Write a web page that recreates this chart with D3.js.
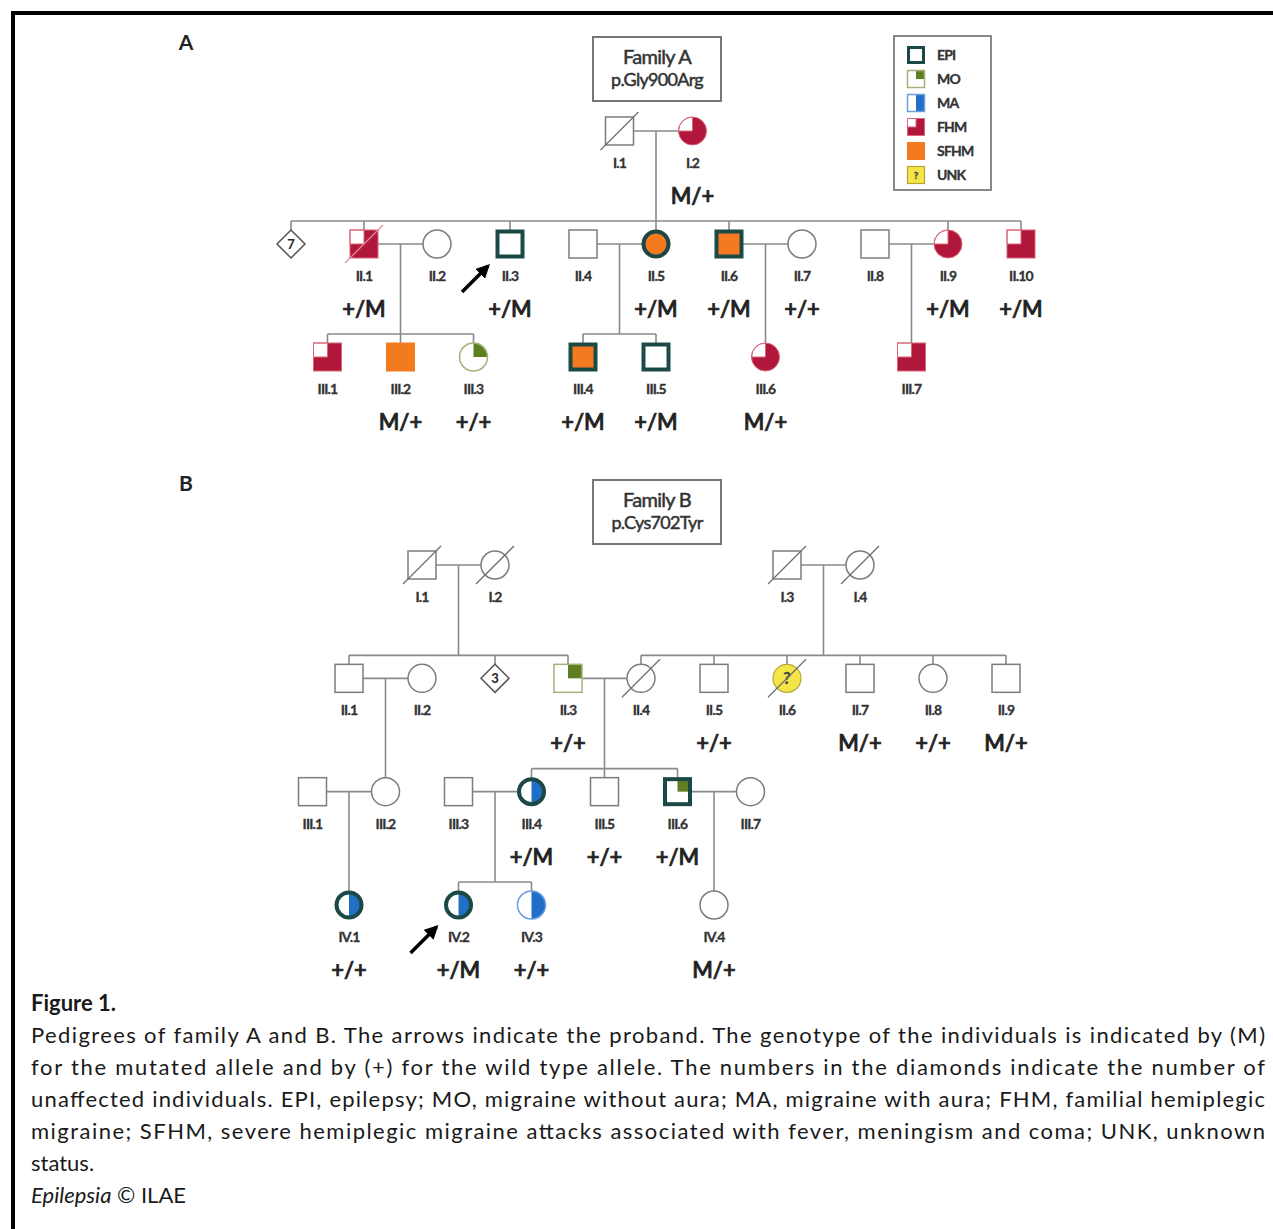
<!DOCTYPE html>
<html>
<head>
<meta charset="utf-8">
<script src="https://cdn.jsdelivr.net/npm/d3@7"></script>
<style>
  body { margin: 0; background: #fff; }
  svg { display: block; }
  text { font-family: Lato, "Open Sans", sans-serif; }
</style>
</head>
<body>
<svg id="chart" width="1273" height="1229"></svg>
<script>
// ---- data ----
// sex: m / f / n (diamond, unaffected group), col = pedigree column, gen = generation
const peopleA = [
  { id: "I.1", sex: "m", gen: 1, col: 4.5, dead: true },
  { id: "I.2", sex: "f", gen: 1, col: 5.5, traits: ["FHM"], geno: "M/+" },
  { id: "dA", sex: "n", gen: 2, col: 0, count: 7 },
  { id: "II.1", sex: "m", gen: 2, col: 1, traits: ["FHM"], geno: "+/M", dead: true },
  { id: "II.2", sex: "f", gen: 2, col: 2 },
  { id: "II.3", sex: "m", gen: 2, col: 3, traits: ["EPI"], geno: "+/M", proband: true },
  { id: "II.4", sex: "m", gen: 2, col: 4 },
  { id: "II.5", sex: "f", gen: 2, col: 5, traits: ["SFHM", "EPI"], geno: "+/M" },
  { id: "II.6", sex: "m", gen: 2, col: 6, traits: ["SFHM", "EPI"], geno: "+/M" },
  { id: "II.7", sex: "f", gen: 2, col: 7, geno: "+/+" },
  { id: "II.8", sex: "m", gen: 2, col: 8 },
  { id: "II.9", sex: "f", gen: 2, col: 9, traits: ["FHM"], geno: "+/M" },
  { id: "II.10", sex: "m", gen: 2, col: 10, traits: ["FHM"], geno: "+/M" },
  { id: "III.1", sex: "m", gen: 3, col: 0.5, traits: ["FHM"] },
  { id: "III.2", sex: "m", gen: 3, col: 1.5, traits: ["SFHM"], geno: "M/+" },
  { id: "III.3", sex: "f", gen: 3, col: 2.5, traits: ["MO"], geno: "+/+" },
  { id: "III.4", sex: "m", gen: 3, col: 4, traits: ["SFHM", "EPI"], geno: "+/M" },
  { id: "III.5", sex: "m", gen: 3, col: 5, traits: ["EPI"], geno: "+/M" },
  { id: "III.6", sex: "f", gen: 3, col: 6.5, traits: ["FHM"], geno: "M/+" },
  { id: "III.7", sex: "m", gen: 3, col: 8.5, traits: ["FHM"] }
];

const unionsA = [
  { partners: ["I.1", "I.2"], children: ["dA", "II.1", "II.3", "II.5", "II.6", "II.9", "II.10"] },
  { partners: ["II.1", "II.2"], children: ["III.1", "III.2", "III.3"] },
  { partners: ["II.4", "II.5"], children: ["III.4", "III.5"] },
  { partners: ["II.6", "II.7"], children: ["III.6"] },
  { partners: ["II.8", "II.9"], children: ["III.7"] }
];

const peopleB = [
  { id: "I.1", sex: "m", gen: 1, col: 1, dead: true },
  { id: "I.2", sex: "f", gen: 1, col: 2, dead: true },
  { id: "I.3", sex: "m", gen: 1, col: 6, dead: true },
  { id: "I.4", sex: "f", gen: 1, col: 7, dead: true },
  { id: "II.1", sex: "m", gen: 2, col: 0 },
  { id: "II.2", sex: "f", gen: 2, col: 1 },
  { id: "dB", sex: "n", gen: 2, col: 2, count: 3 },
  { id: "II.3", sex: "m", gen: 2, col: 3, traits: ["MO"], geno: "+/+" },
  { id: "II.4", sex: "f", gen: 2, col: 4, dead: true },
  { id: "II.5", sex: "m", gen: 2, col: 5, geno: "+/+" },
  { id: "II.6", sex: "f", gen: 2, col: 6, traits: ["UNK"], dead: true },
  { id: "II.7", sex: "m", gen: 2, col: 7, geno: "M/+" },
  { id: "II.8", sex: "f", gen: 2, col: 8, geno: "+/+" },
  { id: "II.9", sex: "m", gen: 2, col: 9, geno: "M/+" },
  { id: "III.1", sex: "m", gen: 3, col: -0.5 },
  { id: "III.2", sex: "f", gen: 3, col: 0.5 },
  { id: "III.3", sex: "m", gen: 3, col: 1.5 },
  { id: "III.4", sex: "f", gen: 3, col: 2.5, traits: ["MA", "EPI"], geno: "+/M" },
  { id: "III.5", sex: "m", gen: 3, col: 3.5, geno: "+/+" },
  { id: "III.6", sex: "m", gen: 3, col: 4.5, traits: ["MO", "EPI"], geno: "+/M" },
  { id: "III.7", sex: "f", gen: 3, col: 5.5 },
  { id: "IV.1", sex: "f", gen: 4, col: 0, traits: ["MA", "EPI"], geno: "+/+" },
  { id: "IV.2", sex: "f", gen: 4, col: 1.5, traits: ["MA", "EPI"], geno: "+/M", proband: true },
  { id: "IV.3", sex: "f", gen: 4, col: 2.5, traits: ["MA"], geno: "+/+" },
  { id: "IV.4", sex: "f", gen: 4, col: 5, geno: "M/+" }
];

const unionsB = [
  { partners: ["I.1", "I.2"], children: ["II.1", "dB", "II.3"] },
  { partners: ["I.3", "I.4"], children: ["II.4", "II.5", "II.6", "II.7", "II.8", "II.9"] },
  { partners: ["II.1", "II.2"], children: ["III.2"] },
  { partners: ["II.3", "II.4"], children: ["III.4", "III.5", "III.6"] },
  { partners: ["III.1", "III.2"], children: ["IV.1"] },
  { partners: ["III.3", "III.4"], children: ["IV.2", "IV.3"] },
  { partners: ["III.6", "III.7"], children: ["IV.4"] }
];

const legendItems = ["EPI", "MO", "MA", "FHM", "SFHM", "UNK"];

const titleA = ["Family A", "p.Gly900Arg"];
const titleB = ["Family B", "p.Cys702Tyr"];

const captionTitle = "Figure 1.";
const captionLines = [
  "Pedigrees of family A and B. The arrows indicate the proband. The genotype of the individuals is indicated by (M)",
  "for the mutated allele and by (+) for the wild type allele. The numbers in the diamonds indicate the number of",
  "unaffected individuals. EPI, epilepsy; MO, migraine without aura; MA, migraine with aura; FHM, familial hemiplegic",
  "migraine; SFHM, severe hemiplegic migraine attacks associated with fever, meningism and coma; UNK, unknown",
  "status."
];

// ---- styles ----
const COLORS = { EPI: "#1b4a46", MO: "#5e7e22", MA: "#2170c8", FHM: "#b0173b", SFHM: "#f37a1f", UNK: "#f6e548" };
const LINE = "#8a8a8a";
const H = 14; // half-size of a symbol

const svg = d3.select("#chart");

// frame
svg.append("path")
  .attr("d", "M13,1229 V13 H1273")
  .attr("fill", "none").attr("stroke", "#000").attr("stroke-width", 4);

// arrow marker
svg.append("defs").append("marker")
  .attr("id", "head").attr("viewBox", "0 0 10 10")
  .attr("refX", 8).attr("refY", 5)
  .attr("markerWidth", 4).attr("markerHeight", 4)
  .attr("orient", "auto")
  .append("path").attr("d", "M0,0 L10,5 L0,10 Z").attr("fill", "#000");

// region inside a symbol: tl (top-left quarter), tr (top-right quarter), right (half)
const arcs = { tl: [-Math.PI / 2, 0], tr: [0, Math.PI / 2], right: [0, Math.PI] };
function region(g, square, h, kind) {
  if (square) {
    const r = { tl: [-h, -h, h, h], tr: [0, -h, h, h], right: [0, -h, h, 2 * h] }[kind];
    return g.append("rect").attr("x", r[0]).attr("y", r[1]).attr("width", r[2]).attr("height", r[3]);
  }
  const [a0, a1] = arcs[kind];
  return g.append("path").attr("d", d3.arc()({ innerRadius: 0, outerRadius: h, startAngle: a0, endAngle: a1 }));
}

function outline(g, square, h) {
  return square
    ? g.append("rect").attr("x", -h).attr("y", -h).attr("width", 2 * h).attr("height", 2 * h)
    : g.append("circle").attr("r", h);
}

function drawSymbol(g, p, h, epiWidth) {
  const t = p.traits || [];
  const has = k => t.includes(k);
  if (p.sex === "n") {
    g.append("path")
      .attr("d", `M0,${-h} L${h},0 L0,${h} L${-h},0 Z`)
      .attr("fill", "#fff").attr("stroke", "#555").attr("stroke-width", 1.5);
    g.append("text").attr("text-anchor", "middle").attr("dy", "0.36em")
      .attr("font-size", 13).attr("font-weight", "bold").attr("fill", "#222")
      .text(p.count);
    return;
  }
  const square = p.sex === "m";
  let base = "#fff";
  if (has("SFHM")) base = COLORS.SFHM;
  if (has("FHM")) base = COLORS.FHM;
  if (has("UNK")) base = COLORS.UNK;
  outline(g, square, h).attr("fill", base);

  let stroke = "#7c7c7c", sw = 1.5;
  if (has("FHM")) {
    region(g, square, h, "tl").attr("fill", "#fff").attr("stroke", "#d8677a").attr("stroke-width", 1);
    stroke = "#d8677a"; sw = 1;
  }
  if (has("MO")) {
    region(g, square, h, "tr").attr("fill", COLORS.MO);
    stroke = "#a8b07a";
  }
  if (has("MA")) {
    region(g, square, h, "right").attr("fill", COLORS.MA);
    stroke = "#6b9ee0";
  }
  if (has("SFHM")) { stroke = COLORS.SFHM; sw = 1; }
  if (has("UNK")) {
    stroke = "#b3a73a"; sw = 1.2;
    g.append("text").attr("text-anchor", "middle").attr("dy", "0.36em")
      .attr("font-size", h * 1.15).attr("font-weight", "bold").attr("fill", "#444")
      .attr("stroke", "#444").attr("stroke-width", 0.4)
      .text("?");
  }
  if (has("EPI")) {
    const inset = epiWidth / 2 - 0.5;
    outline(g, square, h - inset).attr("fill", "none")
      .attr("stroke", COLORS.EPI).attr("stroke-width", epiWidth);
  } else {
    outline(g, square, h).attr("fill", "none").attr("stroke", stroke).attr("stroke-width", sw);
  }
  if (p.dead) {
    g.append("line")
      .attr("x1", -h - 5).attr("y1", h + 5).attr("x2", h + 5).attr("y2", -h - 5)
      .attr("stroke", has("FHM") ? "#e08a98" : "#6f6f6f").attr("stroke-width", 1.3);
  }
}

function drawFamily(people, unions, xs, ys) {
  const g = svg.append("g");
  const byId = new Map(people.map(p => [p.id, p]));
  const gl = g.append("g").attr("stroke", LINE).attr("stroke-width", 1.6);
  const seg = (x1, y1, x2, y2) => gl.append("line")
    .attr("x1", x1).attr("y1", y1).attr("x2", x2).attr("y2", y2);

  unions.forEach(u => {
    const [a, b] = u.partners.map(id => byId.get(id));
    const y = ys(a.gen);
    const xa = xs(a.col), xb = xs(b.col);
    seg(xa + H, y, xb - H, y);
    const mx = (xa + xb) / 2;
    const kids = u.children.map(id => byId.get(id));
    const cy = ys(kids[0].gen);
    const kx = kids.map(k => xs(k.col));
    if (kids.length === 1 && Math.abs(kx[0] - mx) < 1) {
      seg(mx, y, mx, cy - H);
    } else {
      const sy = cy - 23;
      seg(mx, y, mx, sy);
      seg(d3.min(kx), sy, d3.max(kx), sy);
      kx.forEach(x => seg(x, sy, x, cy - H));
    }
  });

  people.forEach(p => {
    const x = xs(p.col), y = ys(p.gen);
    drawSymbol(g.append("g").attr("transform", `translate(${x},${y})`), p, H, 4);
    if (p.sex !== "n") {
      g.append("text").attr("x", x).attr("y", y + 32)
        .attr("text-anchor", "middle").attr("dy", "0.36em")
        .attr("font-size", 14).attr("font-weight", "bold").attr("letter-spacing", -0.8)
        .attr("fill", "#333").attr("stroke", "#333").attr("stroke-width", 0.3)
        .text(p.id);
    }
    if (p.geno) {
      g.append("text").attr("x", x).attr("y", y + 65)
        .attr("text-anchor", "middle").attr("dy", "0.36em")
        .attr("font-size", 22).attr("font-weight", 600)
        .attr("fill", "#222").attr("stroke", "#222").attr("stroke-width", 0.7)
        .text(p.geno);
    }
    if (p.proband) {
      g.append("line")
        .attr("x1", x - 48).attr("y1", y + 48).attr("x2", x - 22).attr("y2", y + 22)
        .attr("stroke", "#000").attr("stroke-width", 3.5)
        .attr("marker-end", "url(#head)");
    }
  });
}

function drawTitleBox(lines, x, y) {
  const g = svg.append("g");
  g.append("rect").attr("x", x).attr("y", y).attr("width", 128).attr("height", 64)
    .attr("fill", "#fff").attr("stroke", "#777").attr("stroke-width", 2);
  lines.forEach((s, i) => {
    g.append("text").attr("x", x + 64).attr("y", y + 20 + i * 23)
      .attr("text-anchor", "middle").attr("dy", "0.36em")
      .attr("font-size", i === 0 ? 20 : 18).attr("letter-spacing", -0.7)
      .attr("fill", "#333").attr("stroke", "#333").attr("stroke-width", 0.5)
      .text(s);
  });
}

// panel letters
svg.append("text").attr("x", 186).attr("y", 42).attr("text-anchor", "middle").attr("dy", "0.36em")
  .attr("font-size", 21).attr("font-weight", "bold").attr("fill", "#222").text("A");
svg.append("text").attr("x", 186).attr("y", 483).attr("text-anchor", "middle").attr("dy", "0.36em")
  .attr("font-size", 21).attr("font-weight", "bold").attr("fill", "#222").text("B");

drawTitleBox(titleA, 593, 37);
drawTitleBox(titleB, 593, 480);

// family A
const xA = d3.scaleLinear().domain([0, 10]).range([291, 1021]);
const yA = d3.scaleLinear().domain([1, 3]).range([131, 357]);
drawFamily(peopleA, unionsA, xA, yA);

// family B
const xB = d3.scaleLinear().domain([0, 9]).range([349, 1006]);
const yB = d3.scaleLinear().domain([1, 4]).range([565, 905]);
drawFamily(peopleB, unionsB, xB, yB);

// legend
const legend = svg.append("g");
legend.append("rect").attr("x", 894).attr("y", 36).attr("width", 97).attr("height", 154)
  .attr("fill", "#fff").attr("stroke", "#888").attr("stroke-width", 2);
const yLeg = d3.scalePoint().domain(legendItems).range([55, 175]);
legendItems.forEach(k => {
  const g = legend.append("g").attr("transform", `translate(916,${yLeg(k)})`);
  drawSymbol(g, { sex: "m", traits: [k] }, 8.5, 3);
  legend.append("text").attr("x", 937).attr("y", yLeg(k)).attr("dy", "0.36em")
    .attr("font-size", 14).attr("font-weight", "bold").attr("letter-spacing", -0.8)
    .attr("fill", "#333").attr("stroke", "#333").attr("stroke-width", 0.3)
    .text(k);
});

// caption
const cap = svg.append("g").attr("fill", "#1a1a1a");
cap.append("text").attr("x", 31).attr("y", 1011)
  .attr("font-size", 22).attr("font-weight", "bold").text(captionTitle);
captionLines.forEach((s, i) => {
  const t = cap.append("text").attr("x", 31).attr("y", 1043 + i * 32)
    .attr("font-size", 22).text(s);
  if (i < captionLines.length - 1) t.attr("textLength", 1234).attr("lengthAdjust", "spacing");
});
const last = cap.append("text").attr("x", 31).attr("y", 1043 + captionLines.length * 32).attr("font-size", 22);
last.append("tspan").attr("font-style", "italic").text("Epilepsia");
last.append("tspan").text(" © ILAE");
</script>
</body>
</html>
